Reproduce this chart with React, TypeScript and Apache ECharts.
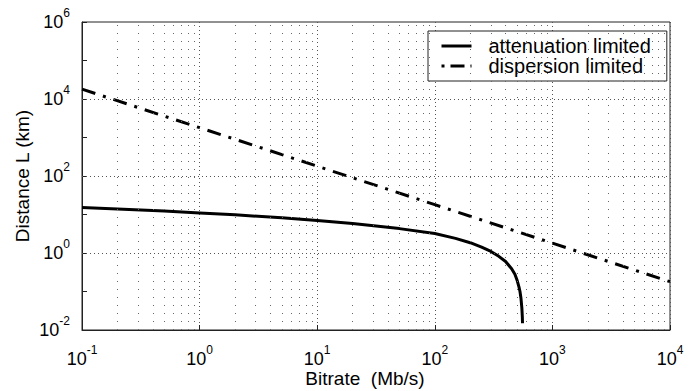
import React, { useEffect, useRef } from "react";
import * as echarts from "echarts";

// Attenuation-limited distance (km) vs bitrate (Mb/s)
const attBitrate = [0.1, 0.2, 0.5, 1, 2, 5, 10, 20, 50, 100, 150, 200, 250, 300, 350, 400, 450, 480, 500, 520, 530, 540, 550, 555, 557];
const attDistance = [15.2, 13.9, 12.3, 11.0, 9.8, 8.2, 7.0, 5.8, 4.3, 3.2, 2.4, 1.85, 1.42, 1.1, 0.82, 0.6, 0.39, 0.28, 0.2, 0.13, 0.1, 0.068, 0.037, 0.022, 0.015];

// Dispersion-limited distance (km) vs bitrate (Mb/s)
const dispBitrate = [0.1, 1, 10, 100, 1000, 10000];
const dispDistance = [18000, 1800, 180, 18, 1.8, 0.18];

// Grid positions
const xMinorMultipliers = [2, 3, 4, 5, 6, 7, 8, 9];
const xDecades = [0.1, 1, 10, 100, 1000];
const yMajorGrid = [10000, 100, 1];

const seriesNames = ["attenuation limited", "dispersion limited"];

const FONT = "'Liberation Sans', Arial, Helvetica, sans-serif";

function supLabel(v: number) {
  const e = Math.round(Math.log10(v));
  return `{b|10}{s|${e}}`;
}

const richLabel = {
  b: { fontSize: 18, lineHeight: 18, color: "#000", fontFamily: FONT },
  s: { fontSize: 12, lineHeight: 12, color: "#000", fontFamily: FONT, padding: [0, 0, 18, 0] },
};

const solidStyle = { type: "solid", width: 3, color: "#000" };
const dashDotStyle = { type: [14, 8, 3, 8], width: 3, color: "#000" };

export default function App() {
  const ref = useRef<HTMLDivElement>(null);
  useEffect(() => {
    if (!ref.current) return;
    const chart = echarts.init(ref.current, undefined, { renderer: "svg" });

    const minorX: number[] = [];
    xDecades.forEach((d) => xMinorMultipliers.forEach((m) => minorX.push(d * m)));

    const option: any = {
      animation: false,
      backgroundColor: "#fff",
      textStyle: { fontFamily: FONT },
      grid: {
        left: 82,
        right: 26,
        top: 22,
        bottom: 61,
        containLabel: false,
        outerBoundsMode: "none",
        show: true,
        borderColor: "#222",
        borderWidth: 1,
        backgroundColor: "transparent",
      },
      legend: {
        data: [
          { name: seriesNames[0], lineStyle: solidStyle, itemStyle: { color: "#000", opacity: 0 } },
          { name: seriesNames[1], lineStyle: { type: [3, 6, 14, 6], width: 3, color: "#000" }, itemStyle: { color: "#000", opacity: 0 } },
        ],
        orient: "vertical",
        left: 428,
        top: 31,
        padding: [5, 16, 5, 12],
        itemWidth: 30,
        itemHeight: 10,
        itemGap: 0,
        backgroundColor: "#fff",
        borderColor: "#222",
        borderWidth: 1,
        borderRadius: 0,
        textStyle: { fontSize: 20, lineHeight: 20, color: "#000", fontFamily: FONT, padding: [0, 0, 0, 12] },
      },
      xAxis: {
        type: "log",
        logBase: 10,
        min: 0.1,
        max: 10000,
        name: "Bitrate  (Mb/s)",
        nameLocation: "middle",
        nameGap: 39,
        nameMoveOverlap: false,
        nameTextStyle: { fontSize: 19, color: "#000", fontFamily: FONT, padding: [0, 22, 0, 0] },
        axisLine: { show: true, onZero: false, lineStyle: { color: "#222", width: 1 } },
        axisTick: { show: true, inside: true, length: 5, lineStyle: { color: "#222" } },
        axisLabel: { margin: 20, formatter: supLabel, rich: richLabel },
        splitLine: { show: true, lineStyle: { color: "#555", type: [1, 3], width: 1 } },
      },
      yAxis: {
        type: "log",
        logBase: 10,
        min: 0.01,
        max: 1000000,
        name: "Distance L (km)",
        nameLocation: "middle",
        nameGap: 50,
        nameMoveOverlap: false,
        nameTextStyle: { fontSize: 19, color: "#000", fontFamily: FONT },
        axisLine: { show: true, onZero: false, lineStyle: { color: "#222", width: 1 } },
        axisTick: { show: true, inside: true, length: 5, lineStyle: { color: "#222" } },
        axisLabel: {
          margin: 12,
          formatter: (v: number) => {
            const e = Math.round(Math.log10(v));
            return e % 2 === 0 ? supLabel(v) : "";
          },
          rich: richLabel,
        },
        splitLine: { show: false },
      },
      series: [
        {
          name: "__grid",
          type: "line",
          data: [],
          silent: true,
          z: 1,
          markLine: {
            silent: true,
            symbol: "none",
            label: { show: false },
            animation: false,
            data: [
              ...minorX.map((x) => ({ xAxis: x, lineStyle: { color: "#666", type: [1, 7], width: 1 } })),
              ...yMajorGrid.map((y) => ({ yAxis: y, lineStyle: { color: "#555", type: [1, 3], width: 1 } })),
            ],
          },
        },
        {
          name: seriesNames[0],
          type: "line",
          data: attBitrate.map((b, i) => [b, attDistance[i]]),
          showSymbol: false,
          symbol: "none",
          lineStyle: solidStyle,
          itemStyle: { color: "#000" },
          z: 3,
        },
        {
          name: seriesNames[1],
          type: "line",
          data: dispBitrate.map((b, i) => [b, dispDistance[i]]),
          showSymbol: false,
          symbol: "none",
          lineStyle: dashDotStyle,
          itemStyle: { color: "#000" },
          z: 3,
        },
      ],
    };
    chart.setOption(option);
    return () => chart.dispose();
  }, []);

  return <div ref={ref} style={{ width: 696, height: 391, position: "absolute", left: 0, top: 0 }} />;
}
